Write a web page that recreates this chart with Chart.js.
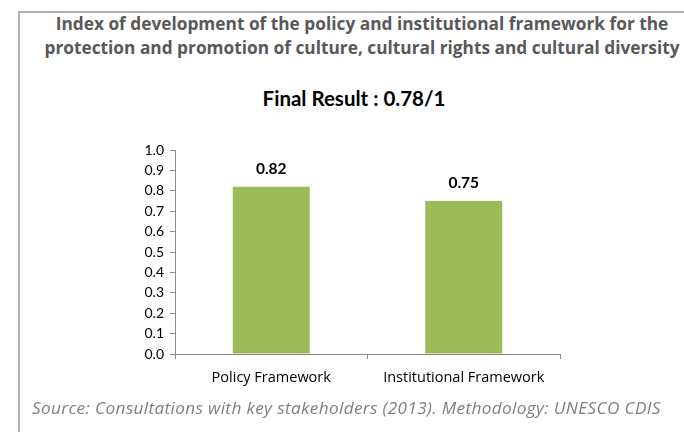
<!DOCTYPE html>
<html>
<head>
<meta charset="utf-8">
<script src="https://cdn.jsdelivr.net/npm/chart.js@4"></script>
<style>
  html, body { margin: 0; padding: 0; background: #fff; }
  body { width: 684px; height: 432px; position: relative; overflow: hidden; font-family: "Open Sans", Lato, sans-serif; }
  #frame { position: absolute; left: 18px; top: 11px; width: 700px; height: 460px; border: 2px solid #b0b0b0; }
  #title { position: absolute; left: 24px; width: 676px; top: 12px; text-align: center; font-weight: bold; font-size: 17.3px; line-height: 24px; color: #595959; white-space: nowrap; }
  #result { position: absolute; left: 0; width: 708px; top: 86px; text-align: center; font-family: Lato, sans-serif; font-weight: bold; font-size: 20.5px; color: #000; }
  #source { position: absolute; left: 32px; top: 396px; font-style: italic; font-size: 17.2px; letter-spacing: 0.35px; color: #7f7f7f; white-space: nowrap; }
  #box { position: absolute; left: 0; top: 130px; width: 684px; height: 270px; }
</style>
</head>
<body>
<div id="frame"></div>
<div id="title">Index of development of the policy and institutional framework for the<br>protection and promotion of culture, cultural rights and cultural diversity</div>
<div id="result">Final Result : 0.78/1</div>
<div id="box"><canvas id="chart"></canvas></div>
<div id="source">Source: Consultations with key stakeholders (2013). Methodology: UNESCO CDIS</div>
<script>
const categories = ["Policy Framework", "Institutional Framework"];
const scores = [0.82, 0.75];
const yTicks = [0.0, 0.1, 0.2, 0.3, 0.4, 0.5, 0.6, 0.7, 0.8, 0.9, 1.0];

const valueLabels = {
    id: "valueLabels",
    afterDatasetsDraw(chart) {
        const ctx = chart.ctx;
        const meta = chart.getDatasetMeta(0);
        ctx.save();
        ctx.font = "bold 15.5px Lato";
        ctx.fillStyle = "#000";
        ctx.textAlign = "center";
        ctx.textBaseline = "bottom";
        meta.data.forEach((bar, i) => {
            ctx.fillText(scores[i].toFixed(2), bar.x, bar.y - 10);
        });
        ctx.restore();
    }
};

new Chart(document.getElementById("chart"), {
    type: "bar",
    data: {
        labels: categories,
        datasets: [{
            data: scores,
            backgroundColor: "#9bbb59",
            barPercentage: 0.4,
            categoryPercentage: 1
        }]
    },
    options: {
        responsive: true,
        maintainAspectRatio: false,
        animation: false,
        layout: { padding: { left: 130, right: 124, top: 20, bottom: 10 } },
        plugins: {
            legend: { display: false },
            tooltip: { enabled: false }
        },
        scales: {
            x: {
                grid: { display: true, drawOnChartArea: false, drawTicks: true, tickLength: 5, color: "#8c8c8c" },
                border: { color: "#8c8c8c" },
                ticks: { color: "#000", font: { family: "Open Sans", size: 14.5 }, padding: 10 },
                afterFit(scale) { scale.height = 36; }
            },
            y: {
                min: 0,
                max: 1,
                afterBuildTicks(scale) { scale.ticks = yTicks.map(v => ({ value: v })); },
                grid: { display: true, drawOnChartArea: false, drawTicks: true, tickLength: 5, color: "#8c8c8c" },
                border: { color: "#8c8c8c" },
                ticks: { color: "#000", font: { family: "Lato", size: 14 }, padding: 6, callback: v => v.toFixed(1) },
                afterFit(scale) { scale.width = 45; }
            }
        }
    },
    plugins: [valueLabels]
});
</script>
</body>
</html>
